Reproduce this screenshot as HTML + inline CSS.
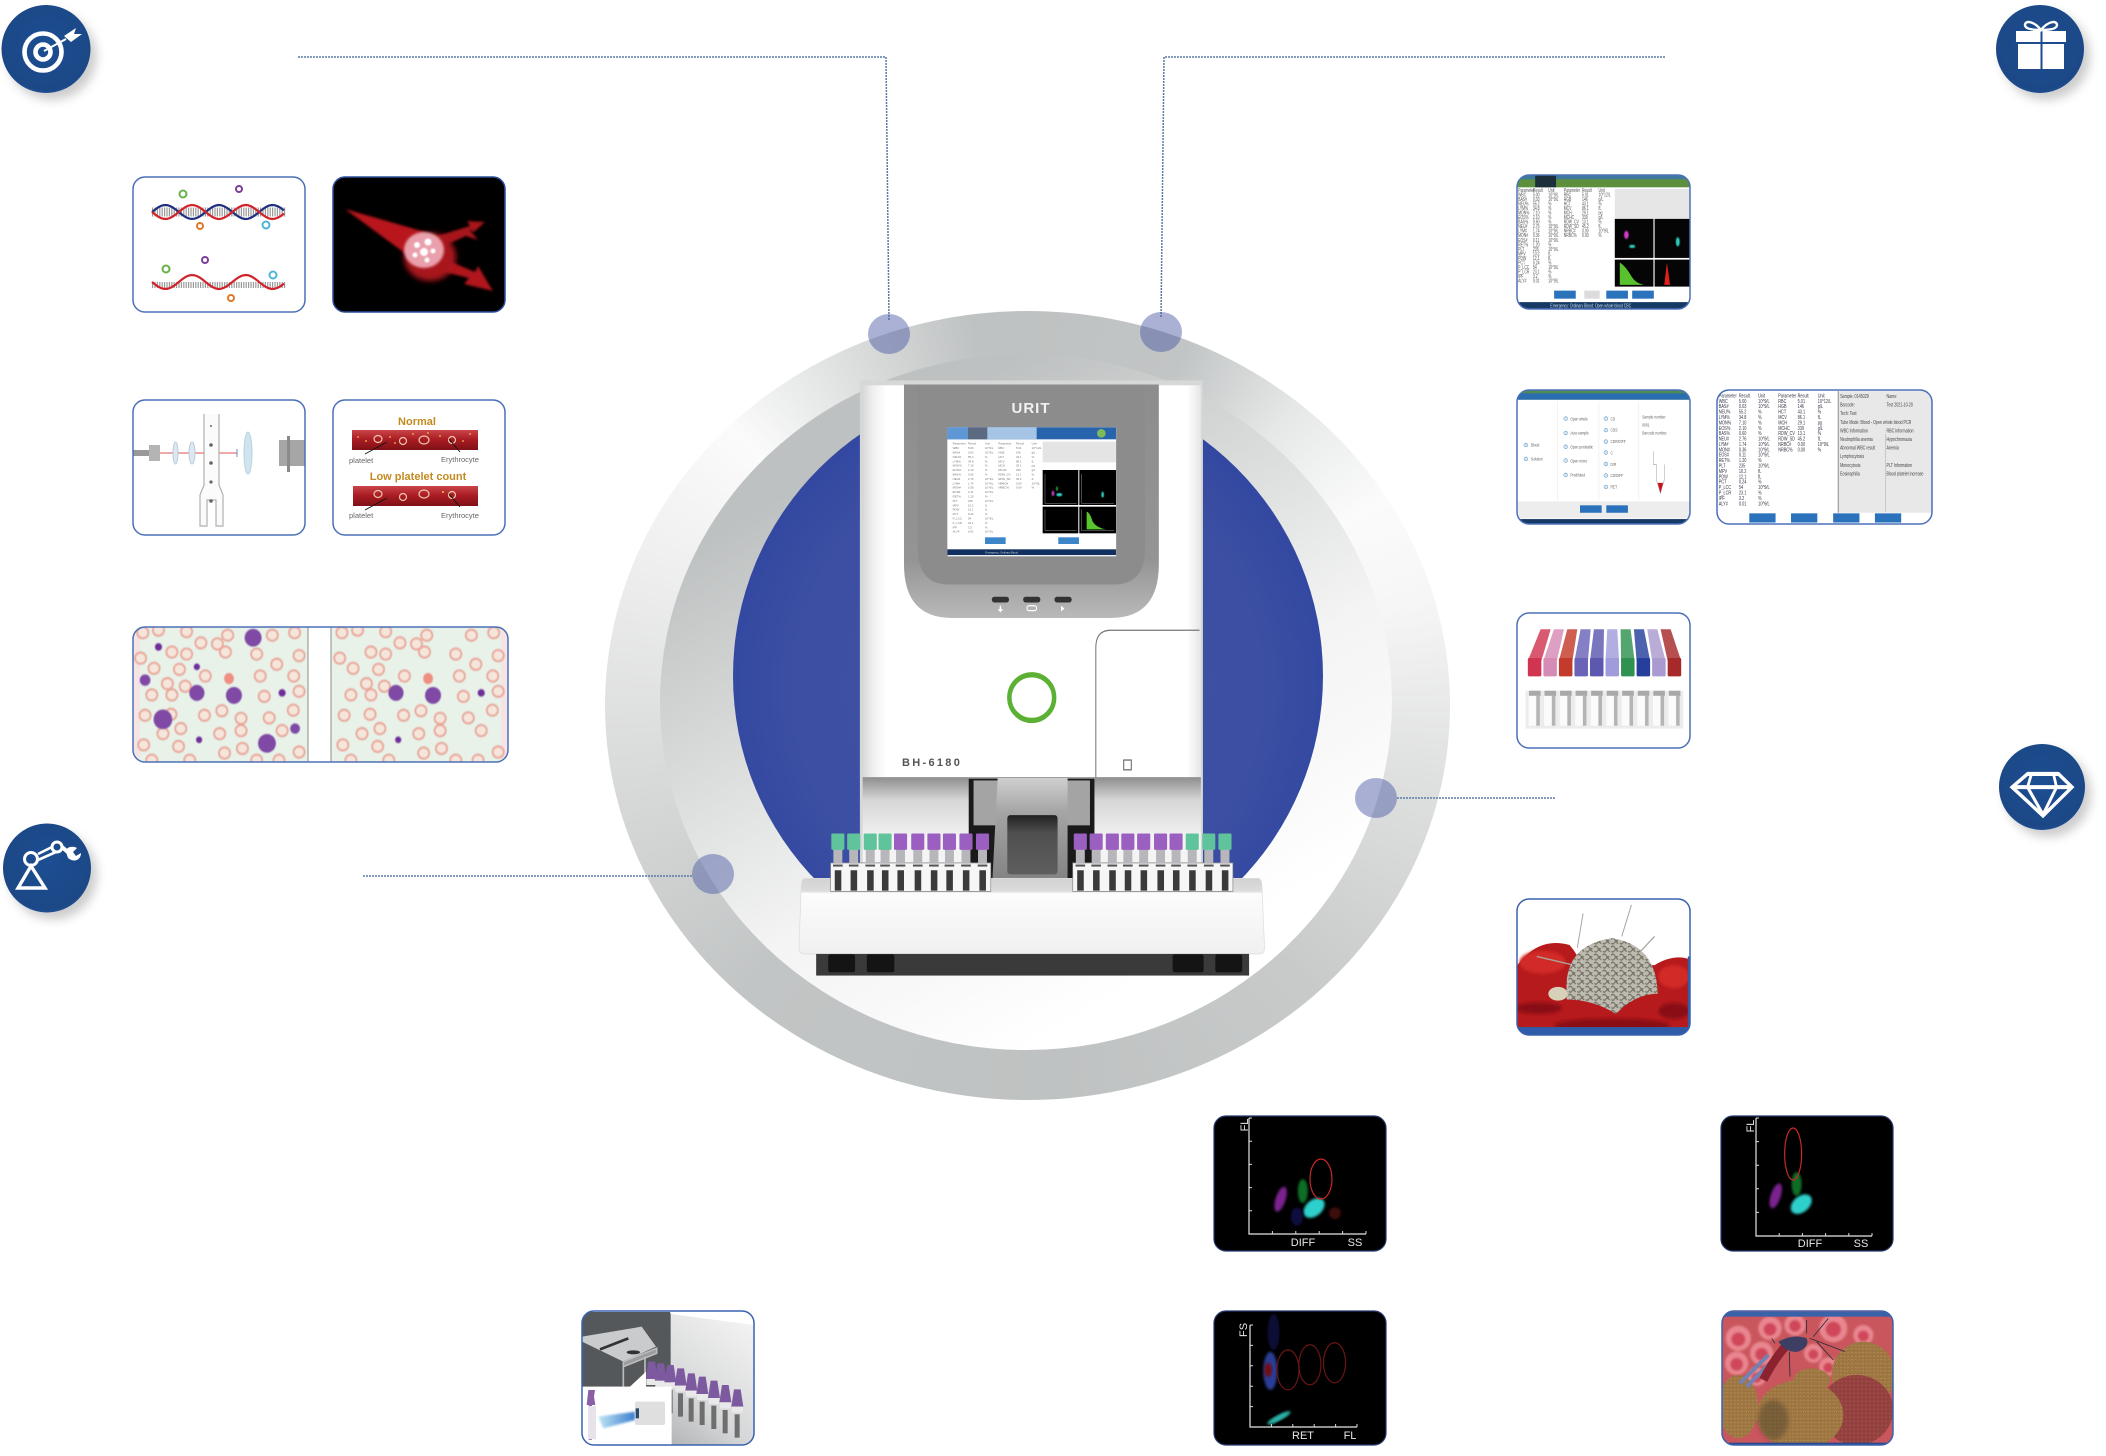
<!DOCTYPE html>
<html lang="en"><head><meta charset="utf-8"><title>URIT BH-6180 hematology analyzer</title>
<style>
html,body{margin:0;padding:0;background:#fff;width:2106px;height:1456px;overflow:hidden;font-family:"Liberation Sans",sans-serif}
.disc{position:absolute;border-radius:50%}
#outer{left:605px;top:311px;width:845px;height:789px;background:conic-gradient(#bfc2c2 0deg,#c2c5c5 24deg,#e6e8e8 42deg,#fbfbfb 60deg,#f6f6f6 75deg,#dfe0e0 100deg,#c8caca 135deg,#bfc2c2 175deg,#c2c5c5 225deg,#dcdddd 265deg,#f0f0f0 293deg,#fbfbfb 313deg,#d9dbdb 335deg,#bfc2c2 352deg)}
#inner{left:660px;top:354px;width:732px;height:696px;background:linear-gradient(150deg,#bec1c1 19%,#cfd1d1 31%,#dcdede 41%,#f4f4f4 59%,#f8f8f8 69%,#fff 81%)}
#blue{left:733px;top:382px;width:590px;height:588px;background:radial-gradient(circle at 50% 52%,#3f51a3 0,#3c4fa2 55%,#2e44a0 80%,#1f3592 100%)}
svg{position:absolute;left:0;top:0}
text{font-family:"Liberation Sans",sans-serif}
</style></head><body>
<div class="disc" id="outer"></div>
<div class="disc" id="inner"></div>
<div class="disc" id="blue"></div>
<svg id="art" width="2106" height="1456" viewBox="0 0 2106 1456">
<defs>
<radialGradient id="iconG" cx="50%" cy="45%" r="60%"><stop offset="0" stop-color="#1f4f92"/><stop offset=".85" stop-color="#1a4786"/><stop offset="1" stop-color="#2a5c9e"/></radialGradient>
<filter id="sh" x="-30%" y="-30%" width="170%" height="170%"><feDropShadow dx="6" dy="7" stdDeviation="5" flood-color="#000" flood-opacity=".2"/></filter>
<filter id="bl05"><feGaussianBlur stdDeviation=".8"/></filter>
<filter id="bl1"><feGaussianBlur stdDeviation="1.4"/></filter>
<filter id="bl2"><feGaussianBlur stdDeviation="3"/></filter>
<filter id="bl4"><feGaussianBlur stdDeviation="6"/></filter>
<linearGradient id="bodyG" x1="0" x2="1" y1="0" y2="0"><stop offset="0" stop-color="#d6d8d8"/><stop offset=".03" stop-color="#efefef"/><stop offset=".07" stop-color="#fff"/><stop offset=".96" stop-color="#fff"/><stop offset="1" stop-color="#e6e6e6"/></linearGradient>
<linearGradient id="cavG" x1="0" x2="0" y1="0" y2="1"><stop offset="0" stop-color="#8e8e8e"/><stop offset=".2" stop-color="#d6d6d6"/><stop offset=".55" stop-color="#f4f4f4"/></linearGradient>
<linearGradient id="bezG" x1="0" x2="0" y1="0" y2="1"><stop offset="0" stop-color="#8d8d8d"/><stop offset=".75" stop-color="#949494"/><stop offset="1" stop-color="#b9b9b9"/></linearGradient>
<linearGradient id="slotG" x1="0" x2="0" y1="0" y2="1"><stop offset="0" stop-color="#cfcfcf"/><stop offset=".3" stop-color="#a5a5a5"/><stop offset="1" stop-color="#7d7d7d"/></linearGradient>
<linearGradient id="winG" x1="0" x2="0" y1="0" y2="1"><stop offset="0" stop-color="#222"/><stop offset=".3" stop-color="#4f4f4f"/><stop offset="1" stop-color="#5e5e5e"/></linearGradient>
<linearGradient id="trayG" x1="0" x2="0" y1="0" y2="1"><stop offset="0" stop-color="#d2d2d2"/><stop offset=".17" stop-color="#dcdcdc"/><stop offset=".2" stop-color="#fcfcfc"/><stop offset="1" stop-color="#f0f0f0"/></linearGradient>
<linearGradient id="vesG" x1="0" x2="0" y1="0" y2="1"><stop offset="0" stop-color="#c9454a"/><stop offset=".5" stop-color="#a81a22"/><stop offset="1" stop-color="#7e1218"/></linearGradient>
<linearGradient id="beamG" x1="1" x2="0" y1="0" y2="0"><stop offset="0" stop-color="#3b7fd0"/><stop offset="1" stop-color="#bfe5f4"/></linearGradient>
<linearGradient id="steelG" x1="0" x2="1" y1="1" y2="0"><stop offset="0" stop-color="#8b8d8e"/><stop offset=".5" stop-color="#d6d7d8"/><stop offset="1" stop-color="#f6f6f6"/></linearGradient>
<pattern id="brain" width="22" height="14" patternUnits="userSpaceOnUse"><rect width="22" height="14" fill="#bdbab0"/><path d="M1 3q5-4 9 0t9 2M2 10q5 3 8-1t10 2" stroke="#6e6a5e" stroke-width="2.2" fill="none"/></pattern>
<pattern id="bump" width="11" height="11" patternUnits="userSpaceOnUse"><rect width="11" height="11" fill="#9c7440"/><circle cx="5" cy="5" r="3" fill="#c0985e"/><circle cx="5" cy="6" r="1.4" fill="#6c4a28"/></pattern>
<pattern id="bumpR" width="12" height="12" patternUnits="userSpaceOnUse"><rect width="12" height="12" fill="#94403f"/><circle cx="6" cy="5" r="3" fill="#ab5a52"/><circle cx="6" cy="6" r="1.4" fill="#6a2c2c"/></pattern>
<clipPath id="cP1"><rect x="133" y="177" width="172" height="135" rx="12"/></clipPath>
<clipPath id="cP2"><rect x="333" y="177" width="172" height="135" rx="12"/></clipPath>
<clipPath id="cP3"><rect x="133" y="400" width="172" height="135" rx="12"/></clipPath>
<clipPath id="cP4"><rect x="333" y="400" width="172" height="135" rx="12"/></clipPath>
<clipPath id="cP5"><rect x="133" y="627" width="375" height="135" rx="12"/></clipPath>
<clipPath id="cR1"><rect x="1517" y="175" width="173" height="134" rx="12"/></clipPath>
<clipPath id="cR2"><rect x="1517" y="390" width="173" height="134" rx="12"/></clipPath>
<clipPath id="cR3"><rect x="1717" y="390" width="215" height="134" rx="12"/></clipPath>
<clipPath id="cR4"><rect x="1517" y="613" width="173" height="135" rx="12"/></clipPath>
<clipPath id="cR5"><rect x="1517" y="899" width="173" height="136" rx="12"/></clipPath>
<clipPath id="cB1"><rect x="1214" y="1116" width="172" height="135" rx="12"/></clipPath>
<clipPath id="cB2"><rect x="1721" y="1116" width="172" height="135" rx="12"/></clipPath>
<clipPath id="cB3"><rect x="1214" y="1311" width="172" height="134" rx="12"/></clipPath>
<clipPath id="cB4"><rect x="1722" y="1311" width="171" height="134" rx="12"/></clipPath>
<clipPath id="cB5"><rect x="582" y="1311" width="172" height="134" rx="12"/></clipPath>
</defs>

<!-- connector lines -->
<g fill="none" stroke="#5a7aa8" stroke-width="1.500" stroke-dasharray="2 1">
<path d="M298 57H886L889 320"/>
<path d="M1665 57H1164L1161 318"/>
<path d="M1397 798H1556"/>
<path d="M363 876H692"/>
</g>

<!-- icons -->
<g>
<ellipse cx="46" cy="49" rx="44.5" ry="44" fill="url(#iconG)" filter="url(#sh)"/>
<circle cx="43" cy="52" r="18.5" fill="none" stroke="#fff" stroke-width="4.6"/>
<circle cx="43" cy="52" r="7.5" fill="none" stroke="#fff" stroke-width="4.6"/>
<path d="M44 51L66 39" stroke="#fff" stroke-width="2"/>
<path d="M64 36L76 28L74 34L82 34L71 42Z" fill="#fff"/>
</g>
<g>
<ellipse cx="2040" cy="49" rx="44" ry="44" fill="url(#iconG)" filter="url(#sh)"/>
<rect x="2016" y="31" width="24.5" height="11" fill="#fff"/><rect x="2042.500" y="31" width="23.5" height="11" fill="#fff"/>
<rect x="2018" y="44" width="22.5" height="25" fill="#fff"/><rect x="2042.500" y="44" width="21.500" height="25" fill="#fff"/>
<path d="M2041 30C2034 21 2025 20 2025 25C2025 29 2033 30 2041 30C2049 30 2057 29 2057 25C2057 20 2048 21 2041 30Z" fill="none" stroke="#fff" stroke-width="2.4"/>
</g>
<g>
<ellipse cx="2042" cy="787" rx="43" ry="43" fill="url(#iconG)" filter="url(#sh)"/>
<g transform="translate(1500,150) scale(.3865,.574)" fill="none" stroke="#fff" stroke-width="7">
<path d="M1365 1087H1445L1480 1110L1405 1160L1325 1110Z"/><path d="M1325 1110H1480M1375 1087L1365 1110L1405 1158L1440 1110L1432 1087"/>
</g>
</g>
<g>
<ellipse cx="47" cy="868" rx="44" ry="44.500" fill="url(#iconG)" filter="url(#sh)"/>
<path d="M18 888H45L31 866Z" fill="none" stroke="#fff" stroke-width="3.4"/>
<circle cx="31" cy="859" r="6.5" fill="none" stroke="#fff" stroke-width="3"/>
<circle cx="57" cy="847" r="5" fill="none" stroke="#fff" stroke-width="3"/>
<path d="M38 854L52 847M38 860L56 852" stroke="#fff" stroke-width="2.6"/>
<path d="M62 847L70 854" stroke="#fff" stroke-width="4"/>
<path d="M66 852C66 846 74 846 77 848L73 852L76 856L81 853C81 860 74 863 68 858Z" fill="#fff"/>
</g>

<!-- left panels -->
<g clip-path="url(#cP1)">
<rect x="133" y="177" width="172" height="135" fill="#fff"/>
<g id="dna"></g>
<g fill="none" stroke-width="2">
<circle cx="183" cy="194" r="3.500" stroke="#68b14b"/><circle cx="239" cy="189" r="3" stroke="#7b3f98"/><circle cx="200" cy="226" r="3" stroke="#e0782a"/><circle cx="266" cy="225" r="3.500" stroke="#4fb5d8"/>
<circle cx="166" cy="269" r="3.500" stroke="#68b14b"/><circle cx="205" cy="260" r="3" stroke="#7b3f98"/><circle cx="231" cy="298" r="3" stroke="#e0782a"/><circle cx="273" cy="275" r="3.500" stroke="#4fb5d8"/>
</g>
</g>
<rect x="133" y="177" width="172" height="135" rx="12" fill="none" stroke="#4b70b8" stroke-width="1.500"/>

<g clip-path="url(#cP2)">
<rect x="333" y="177" width="172" height="135" fill="#000"/>
<path d="M345 209L425 232L425 268Z" fill="#b8161a" filter="url(#bl1)"/>
<path d="M424 240L470 226L467 221L485 222L474 232L469 229L478 240L466 236L430 252Z" fill="#a8161a" filter="url(#bl1)"/>
<path d="M435 255L475 272L478 266L493 291L464 284L469 278L428 268Z" fill="#b0161a" filter="url(#bl1)"/>
<ellipse cx="430" cy="257" rx="26" ry="24" fill="#a8141a" filter="url(#bl2)"/>
<ellipse cx="424" cy="250" rx="20" ry="18" fill="#e9a0ac" filter="url(#bl1)"/>
<g fill="#fff" filter="url(#bl05)"><circle cx="417" cy="245" r="3"/><circle cx="428" cy="242" r="3.500"/><circle cx="424" cy="252" r="4"/><circle cx="433" cy="251" r="2.500"/><circle cx="415" cy="255" r="2.500"/><circle cx="427" cy="260" r="2.500"/></g>
</g>
<rect x="333" y="177" width="172" height="135" rx="12" fill="none" stroke="#2e4f9a" stroke-width="1.500"/>

<g clip-path="url(#cP3)">
<rect x="133" y="400" width="172" height="135" fill="#fff"/>
<rect x="133" y="450" width="16" height="6" fill="#999"/><rect x="149" y="445" width="11" height="16" fill="#b4b4b4"/>
<path d="M160 453H237" stroke="#e98b8b" stroke-width="1.500"/>
<path d="M237 449V457" stroke="#6c8cc4" stroke-width="1"/>
<ellipse cx="175.500" cy="453" rx="2.500" ry="11" fill="#dce8ef" stroke="#bcd"/><ellipse cx="192" cy="453" rx="3" ry="11" fill="#dce8ef" stroke="#bcd"/>
<ellipse cx="248" cy="453" rx="4" ry="21" fill="#cfe4ef" stroke="#b9d3e0"/>
<path d="M204 414V485L200 495V526H207V500H216V526H223V495L219 485V414" fill="#fbfbfb" stroke="#b0b0b0" stroke-width="1.200"/>
<g fill="#666"><circle cx="211" cy="426" r="1"/><circle cx="211" cy="445" r="1.800"/><circle cx="211" cy="463" r="1.800"/><circle cx="211" cy="482" r="1.600"/><circle cx="211" cy="501" r="1.800"/></g>
<rect x="279" y="440" width="26" height="26" fill="#a6a6a6"/><rect x="287" y="436" width="3" height="36" fill="#8a8a8a"/>
</g>
<rect x="133" y="400" width="172" height="135" rx="12" fill="none" stroke="#4b70b8" stroke-width="1.500"/>

<g clip-path="url(#cP4)">
<rect x="333" y="400" width="172" height="135" fill="#fff"/>
<text x="417" y="425" font-size="11" font-weight="bold" fill="#c48a1f" text-anchor="middle">Normal</text>
<rect x="352" y="430" width="126" height="20" fill="url(#vesG)"/>
<g fill="none" stroke="#f3c8a8" stroke-width="1.200"><ellipse cx="378" cy="439" rx="4" ry="3.500"/><ellipse cx="403" cy="441" rx="3.500" ry="3.500"/><ellipse cx="424" cy="440" rx="5" ry="4"/><ellipse cx="452" cy="440" rx="3.500" ry="3.500"/></g>
<g fill="#f0c04a"><circle cx="358" cy="437" r=".9"/><circle cx="366" cy="441" r=".9"/><circle cx="390" cy="437" r=".9"/><circle cx="395" cy="443" r=".9"/><circle cx="413" cy="434" r=".9"/><circle cx="428" cy="433" r=".9"/><circle cx="440" cy="436" r=".9"/><circle cx="463" cy="441" r=".9"/><circle cx="470" cy="434" r=".9"/></g>
<path d="M365 454L387 442M460 452L449 439" stroke="#111" stroke-width=".9"/>
<text x="349" y="463" font-size="7.500" fill="#666">platelet</text>
<text x="441" y="462" font-size="7.500" fill="#666">Erythrocyte</text>
<text x="418" y="480" font-size="11" font-weight="bold" fill="#c48a1f" text-anchor="middle">Low platelet count</text>
<rect x="353" y="486" width="125" height="20" fill="url(#vesG)"/>
<g fill="none" stroke="#f3c8a8" stroke-width="1.200"><ellipse cx="378" cy="494" rx="4" ry="3.500"/><ellipse cx="403" cy="497" rx="3.500" ry="3.500"/><ellipse cx="424" cy="494" rx="5" ry="4"/><ellipse cx="452" cy="495" rx="3.500" ry="3.500"/></g>
<circle cx="443" cy="492" r="1" fill="#f0c04a"/>
<path d="M365 510L387 498M460 507L449 494" stroke="#111" stroke-width=".9"/>
<text x="349" y="518" font-size="7.500" fill="#666">platelet</text>
<text x="441" y="518" font-size="7.500" fill="#666">Erythrocyte</text>
</g>
<rect x="333" y="400" width="172" height="135" rx="12" fill="none" stroke="#4b70b8" stroke-width="1.500"/>

<g clip-path="url(#cP5)">
<rect x="133" y="627" width="375" height="135" fill="#e8f2e9"/>
<rect x="133" y="627" width="7" height="135" fill="#f6e4e5"/><rect x="501" y="627" width="7" height="135" fill="#f6e4e5"/>
<g id="smear" transform="scale(.4464,.5102)" filter="url(#bl1)"></g>
<rect x="308" y="627" width="23" height="135" fill="#fff"/>
<path d="M308 627V762M331 627V762" stroke="#8a8f8a" stroke-width="1"/>
</g>
<rect x="133" y="627" width="375" height="135" rx="12" fill="none" stroke="#4b70b8" stroke-width="1.500"/>

<!-- device -->
<g id="device" transform="translate(780,360) scale(.3444,.4082)">
<rect x="232" y="50" width="996" height="1260" fill="#d6d8d8"/>
<rect x="240" y="62" width="982" height="960" fill="url(#bodyG)"/>
<rect x="240" y="1022" width="982" height="280" fill="url(#cavG)"/>
<rect x="548" y="1026" width="365" height="270" fill="#1a1a1a"/><rect x="562" y="1030" width="338" height="110" fill="#a4a4a4"/>
<path d="M360 60H1100V500Q1100 632 960 632H500Q360 632 360 500Z" fill="url(#bezG)"/>
<path d="M400 62H1060V460Q1060 550 970 550H490Q400 550 400 460Z" fill="#8c8c8c"/>
<rect x="487" y="165" width="489" height="316" fill="#eef2f6"/>
<g fill="#333"><rect x="615" y="580" width="50" height="14" rx="7"/><rect x="706" y="580" width="50" height="14" rx="7"/><rect x="797" y="580" width="50" height="14" rx="7"/>
<path d="M640 602V618M634 612H646" stroke="#fff" stroke-width="4"/><rect x="717" y="602" width="28" height="12" rx="6" fill="none" stroke="#fff" stroke-width="3"/><path d="M816 602V616L826 609Z" fill="#fff"/></g>
<path d="M1218 662H960Q917 662 917 705V1022" fill="none" stroke="#777" stroke-width="3"/>
<rect x="998" y="980" width="22" height="24" fill="none" stroke="#666" stroke-width="3"/>
<ellipse cx="731" cy="827" rx="65" ry="56" fill="none" stroke="#5cb033" stroke-width="13"/>
<path d="M632 1024H835V1302H615Z" fill="url(#slotG)"/>
<rect x="660" y="1115" width="146" height="145" rx="8" fill="url(#winG)"/>
<path d="M72 1270H1390Q1398 1272 1399 1285L1407 1440Q1407 1455 1392 1455H70Q55 1455 55 1440L62 1285Q63 1272 72 1270Z" fill="url(#trayG)" stroke="#dcdcdc" stroke-width="2"/>
<rect x="105" y="1455" width="1257" height="53" fill="#3a3a3a"/>
<g fill="#141414"><rect x="140" y="1456" width="78" height="44" rx="6"/><rect x="252" y="1456" width="80" height="44" rx="6"/><rect x="1140" y="1456" width="90" height="44" rx="6"/><rect x="1264" y="1456" width="78" height="44" rx="6"/></g>
<g id="tubes"></g>
</g>
<text x="1031" y="413" font-size="15" font-weight="bold" fill="#f2f2f2" text-anchor="middle" letter-spacing="1">URIT</text>
<text x="902" y="766" font-size="11" font-weight="bold" fill="#555" letter-spacing="2.300">BH-6180</text>
<g id="devScreen" transform="translate(930,410) scale(.3333)">
<rect x="52" y="52" width="506" height="383" fill="#fff"/>
<rect x="52" y="52" width="506" height="36" fill="#2764ac"/>
<rect x="52" y="52" width="268" height="36" fill="#a6c4e6"/>
<rect x="52" y="52" width="62" height="36" fill="#5f97d4"/><rect x="114" y="52" width="58" height="36" fill="#5b6a80"/>
<circle cx="514" cy="70" r="13" fill="#7dbb5a"/>
<rect x="338" y="95" width="220" height="62" fill="#e4e4e4"/>
<rect x="338" y="180" width="107" height="105" fill="#000"/><rect x="448" y="180" width="110" height="105" fill="#000"/><rect x="338" y="290" width="107" height="80" fill="#000"/><rect x="448" y="290" width="110" height="80" fill="#000"/>
<ellipse cx="388" cy="254" rx="9" ry="5" fill="#2ad0c0" filter="url(#bl1)"/><ellipse cx="369" cy="250" rx="4" ry="8" fill="#c23ac9" filter="url(#bl1)"/><ellipse cx="381" cy="236" rx="3" ry="7" fill="#2a9a3a" filter="url(#bl1)"/>
<ellipse cx="518" cy="254" rx="4" ry="9" fill="#2ad0c0" filter="url(#bl1)"/>
<path d="M470 358V305Q480 308 488 335Q500 354 528 358Z" fill="#59c62f"/>
<path d="M345 192V280H440M455 192V280H552M345 298V362H440M455 298V362H552" fill="none" stroke="#ddd" stroke-width="1"/>
<rect x="165" y="382" width="62" height="20" fill="#3a86c8"/><rect x="385" y="382" width="62" height="20" fill="#3a86c8"/>
<rect x="52" y="418" width="506" height="17" fill="#12305f"/>
<g id="devTable"></g>
<text x="215" y="430" font-size="8" fill="#cdd" text-anchor="middle">Emergency: Ordinary Blood</text>
</g>

<!-- connector dots -->
<g fill="rgba(66,82,160,.45)">
<ellipse cx="889" cy="334" rx="21" ry="20"/>
<ellipse cx="1161" cy="332" rx="21" ry="20"/>
<ellipse cx="1376" cy="798" rx="21" ry="20"/>
<ellipse cx="713" cy="874" rx="21" ry="20"/>
</g>

<!-- right screens -->
<g clip-path="url(#cR1)">
<g transform="translate(1500,150) scale(.3865,.574)">
<rect x="45" y="44" width="446" height="233" fill="#fff"/>
<rect x="45" y="44" width="446" height="21" fill="#5e8f3c"/><rect x="45" y="44" width="446" height="7" fill="#3f7a9e"/><rect x="91" y="44" width="54" height="21" fill="#1d2f3a"/>
<rect x="297" y="68" width="194" height="52" fill="#e6e6e6"/>
<rect x="297" y="120" width="100" height="68" fill="#050505"/><rect x="400" y="120" width="91" height="68" fill="#050505"/><rect x="297" y="191" width="100" height="47" fill="#050505"/><rect x="400" y="191" width="91" height="47" fill="#050505"/>
<ellipse cx="327" cy="148" rx="6" ry="7" fill="#d43ac9" filter="url(#bl1)"/><ellipse cx="342" cy="168" rx="8" ry="3" fill="#2ad0c0" filter="url(#bl1)"/><ellipse cx="460" cy="160" rx="5" ry="8" fill="#2ad0c0" filter="url(#bl1)"/>
<path d="M310 235V196Q325 202 340 220Q350 232 372 235Z" fill="#57c22e"/><path d="M425 235L432 196L440 235Z" fill="#e0201c"/>
<rect x="140" y="245" width="56" height="14" fill="#2a72bb"/><rect x="218" y="245" width="40" height="14" fill="#dcdcdc"/><rect x="275" y="245" width="56" height="14" fill="#2a72bb"/><rect x="342" y="245" width="56" height="14" fill="#2a72bb"/>
<rect x="45" y="265" width="446" height="12" fill="#163a66"/>
<text x="235" y="274" font-size="9" fill="#cde" text-anchor="middle">Emergency: Ordinary Blood: Open whole blood CBC</text>
<g id="r1Table"></g>
</g></g>
<rect x="1517" y="175" width="173" height="134" rx="12" fill="none" stroke="#4b70b8" stroke-width="1.500"/>

<g clip-path="url(#cR2)">
<g transform="translate(1500,150) scale(.3865,.574)">
<rect x="45" y="418" width="446" height="234" fill="#fff"/>
<rect x="45" y="418" width="446" height="17" fill="#4f8a54"/><rect x="45" y="424" width="446" height="11" fill="#2a6db0"/>
<rect x="45" y="612" width="446" height="30" fill="#ededed"/><rect x="148" y="438" width="2" height="172" fill="#eee"/><rect x="255" y="438" width="2" height="172" fill="#eee"/><rect x="358" y="438" width="2" height="172" fill="#eee"/>
<rect x="207" y="619" width="56" height="13" fill="#2a72bb"/><rect x="275" y="619" width="56" height="13" fill="#2a72bb"/>
<rect x="45" y="643" width="446" height="9" fill="#163a66"/>
<path d="M397 525V548H405V575L415 598L425 575V548" fill="#fff" stroke="#999" stroke-width="1.200"/><path d="M408 580H422L415 598Z" fill="#c8141a"/>
<g id="r2Form"></g>
</g></g>
<rect x="1517" y="390" width="173" height="134" rx="12" fill="none" stroke="#4b70b8" stroke-width="1.500"/>

<g clip-path="url(#cR3)">
<g transform="translate(1500,150) scale(.3865,.574)">
<rect x="562" y="418" width="556" height="234" fill="#fff"/>
<rect x="874" y="420" width="244" height="212" fill="#e8e8e8"/><rect x="874" y="420" width="2" height="212" fill="#777"/>
<rect x="997" y="495" width="1" height="135" fill="#999"/>
<rect x="645" y="633" width="68" height="16" fill="#2a72bb"/><rect x="753" y="633" width="68" height="16" fill="#2a72bb"/><rect x="862" y="633" width="68" height="16" fill="#2a72bb"/><rect x="970" y="633" width="68" height="16" fill="#2a72bb"/>
<g id="r3Table"></g>
</g></g>
<rect x="1717" y="390" width="215" height="134" rx="12" fill="none" stroke="#4b70b8" stroke-width="1.500"/>

<g clip-path="url(#cR4)">
<rect x="1517" y="613" width="173" height="135" fill="#fff"/>
<g id="rTubes" transform="translate(1500,150) scale(.3865,.574)"></g>
</g>
<rect x="1517" y="613" width="173" height="135" rx="12" fill="none" stroke="#4b70b8" stroke-width="1.500"/>

<g clip-path="url(#cR5)">
<rect x="1517" y="899" width="173" height="136" fill="#fff"/>
<g transform="translate(1500,150) scale(.3865,.574)">
<path d="M45 1420Q100 1370 180 1385Q200 1400 210 1420H400Q450 1400 491 1410V1541H45Z" fill="#b61a1c"/>
<g fill="#d22a28" filter="url(#bl2)"><ellipse cx="110" cy="1415" rx="60" ry="20"/><ellipse cx="450" cy="1440" rx="40" ry="20"/></g>
<g fill="#8a0f12" filter="url(#bl2)"><ellipse cx="290" cy="1525" rx="150" ry="12"/><ellipse cx="100" cy="1495" rx="60" ry="10"/><ellipse cx="450" cy="1500" rx="40" ry="14"/></g>
<path d="M200 1390L215 1330M315 1370L340 1315M365 1395L400 1370M95 1405L190 1420" stroke="#a8a59c" stroke-width="2.500" fill="none"/>
<path d="M172 1460Q170 1385 290 1373Q405 1385 408 1470Q350 1470 300 1505Q240 1480 172 1480Z" fill="url(#brain)"/>
<ellipse cx="150" cy="1470" rx="25" ry="12" fill="#d6d1b8"/>
<rect x="45" y="1528" width="446" height="13" fill="#2f5ca8"/>
<rect x="486" y="1405" width="5" height="136" fill="#2f5ca8"/>
</g></g>
<rect x="1517" y="899" width="173" height="136" rx="12" fill="none" stroke="#3a62ad" stroke-width="1.500"/>

<!-- bottom plots -->
<g clip-path="url(#cB1)"><rect x="1214" y="1116" width="172" height="135" fill="#000"/><g id="plotA"></g></g>
<rect x="1214" y="1116" width="172" height="135" rx="12" fill="none" stroke="#26376e" stroke-width="1.200"/>
<g clip-path="url(#cB2)"><rect x="1721" y="1116" width="172" height="135" fill="#000"/><g id="plotB"></g></g>
<rect x="1721" y="1116" width="172" height="135" rx="12" fill="none" stroke="#26376e" stroke-width="1.200"/>
<g clip-path="url(#cB3)"><rect x="1214" y="1311" width="172" height="134" fill="#000"/><g id="plotC"></g></g>
<rect x="1214" y="1311" width="172" height="134" rx="12" fill="none" stroke="#26376e" stroke-width="1.200"/>

<!-- malaria panel -->
<g clip-path="url(#cB4)">
<g transform="translate(1700,1300) scale(.3333)">
<rect x="60" y="30" width="525" height="410" fill="#c9565c"/>
<g id="malariaCells" filter="url(#bl2)"></g>
<rect x="66" y="36" width="515" height="14" fill="#3a62a8"/>
<ellipse cx="490" cy="225" rx="95" ry="100" fill="url(#bump)"/>
<ellipse cx="470" cy="330" rx="110" ry="105" fill="url(#bumpR)"/>
<ellipse cx="335" cy="240" rx="55" ry="35" fill="url(#bump)"/>
<ellipse cx="115" cy="320" rx="60" ry="95" fill="url(#bump)"/>
<ellipse cx="300" cy="345" rx="130" ry="105" fill="url(#bump)"/>
<ellipse cx="220" cy="360" rx="45" ry="60" fill="#3f3a2c" opacity=".4" filter="url(#bl4)"/>
<path d="M120 250L205 165M140 260L215 185" stroke="#7480b0" stroke-width="12" fill="none"/>
<path d="M190 240Q220 180 260 135" stroke="#8a2230" stroke-width="26" fill="none"/>
<path d="M235 125Q280 100 320 115Q330 140 295 155Q260 160 235 125Z" fill="#3c3f63"/>
<path d="M330 115L435 155M320 100L320 60M340 110L385 55M350 125L400 180M268 155L270 230M225 130L215 115" stroke="#2a2a3a" stroke-width="2.500" fill="none"/>
<rect x="60" y="428" width="525" height="12" fill="#2a4a8e"/>
</g></g>
<rect x="1722" y="1311" width="171" height="134" rx="12" fill="none" stroke="#3a62ad" stroke-width="1.500"/>

<!-- barcode scanner panel -->
<g clip-path="url(#cB5)">
<g transform="translate(570,1300) scale(.3333)">
<rect x="36" y="36" width="516" height="404" fill="url(#steelG)"/>
<rect x="36" y="36" width="266" height="224" fill="#55585b"/>
<path d="M36 110L215 80L258 140L160 185L36 125Z" fill="#c9cbcc"/>
<path d="M90 148L175 115" stroke="#333" stroke-width="8"/><ellipse cx="190" cy="157" rx="20" ry="6" fill="#333"/>
<path d="M160 185L260 145V160L160 200ZM160 195V260M225 170V240" stroke="#bbb" stroke-width="5" fill="#9a9c9e"/>
<path d="M300 36H552V75L302 42Z" fill="#fff"/>
<g id="scanTubes"></g>
<path d="M36 260H180L228 215V260H305V440H36Z" fill="#fff"/>
<path d="M85 350L195 335V360L100 385Z" fill="url(#beamG)" filter="url(#bl2)"/>
<rect x="195" y="305" width="90" height="70" rx="5" fill="#dfdfdf"/><rect x="197" y="325" width="10" height="30" fill="#2a4a6a"/>
<path d="M55 270H75L72 290L76 315H66V420H56V315H50Z" fill="#8a5fa6"/><rect x="56" y="318" width="22" height="100" fill="#e8e3ea"/>
</g></g>
<rect x="582" y="1311" width="172" height="134" rx="12" fill="none" stroke="#3a62ad" stroke-width="1.500"/>
</svg>

<script>
const SVGNS='http://www.w3.org/2000/svg';
/* ---- density-plot data ---- */
const axisTicks=[20,40,60,80,100];
const plotAClusters=['cyan','purple','green','darkred','darkblue'];
const plotAX=[55.6,27,46,73.5,41];
const plotAY=[22.4,30,37,18,15];
const plotAGateX=[61.5];
const plotAGateY=[47.4];
const plotBClusters=['cyan','purple','green'];
const plotBX=[39,17,35];
const plotBY=[27,34,44];
const plotBGateX=[32];
const plotBGateY=[69.5];
const plotCClusters=['blue','faintblue','flatcyan','reddab'];
const plotCX=[19,22,27,17];
const plotCY=[55,93,9,56];
const plotCGateX=[35.5,56,79];
const plotCGateY=[56,61,63];
const clusterLook={
cyan:{c:'#2fd0cc',rx:12,ry:8,r:-40},purple:{c:'#7c2490',rx:5,ry:13,r:18},green:{c:'#0f6e28',rx:5,ry:12,r:0},
darkred:{c:'#3e0808',rx:6,ry:6,r:0},darkblue:{c:'#0c1040',rx:6,ry:9,r:0},
blue:{c:'#2c3e96',rx:7,ry:19,r:0},faintblue:{c:'#0a0e34',rx:6,ry:18,r:0},flatcyan:{c:'#2ab4aa',rx:13,ry:3,r:-28},reddab:{c:'#6e1114',rx:4,ry:7,r:0}
};
function linear(a,b){return v=>a+(b-a)*v/100;}
function node(parent,tag,attrs){const n=document.createElementNS(SVGNS,tag);for(const k in attrs)n.setAttribute(k,attrs[k]);parent.appendChild(n);return n;}
function label(parent,x,y,t,rot,name){const n=node(parent,'text',{x:x,y:y,'font-size':11,fill:'#e8e8e8','text-anchor':'middle'});n.textContent=t;if(rot)n.setAttribute('transform','rotate(-90 '+x+' '+y+')');


}
function drawPlot(id,box,names,xs,ys,gateX,gateY,gateRx,gateRy,gateColor,labels){
 const g=document.getElementById(id);const X=linear(box.x0,box.x1),Y=linear(box.y0,box.y1);
 names.forEach((nm,i)=>{const s=clusterLook[nm];const e=node(g,'ellipse',{cx:X(xs[i]),cy:Y(ys[i]),rx:s.rx,ry:s.ry,fill:s.c,filter:'url(#bl1)'});
  e.setAttribute('transform','rotate('+s.r+' '+X(xs[i])+' '+Y(ys[i])+')');
  
  
 });
 gateX.forEach((v,i)=>{const e=node(g,'ellipse',{cx:X(v),cy:Y(gateY[i]),rx:gateRx,ry:gateRy,fill:'none',stroke:gateColor,'stroke-width':1.2});
  
  
 });
 const ax=node(g,'path',{d:'M'+box.x0+' '+box.y1+'V'+box.y0+'H'+box.x1,fill:'none',stroke:'#e6e6e6','stroke-width':1.2});
 
 
 axisTicks.forEach(t=>{
  const a=node(g,'path',{d:'M'+X(t)+' '+box.y0+'v-3',stroke:'#ddd','stroke-width':1});
  
  
  const b=node(g,'path',{d:'M'+box.x0+' '+Y(t)+'h3',stroke:'#ddd','stroke-width':1});
  
  
 });
 label(g,labels.x1[0],labels.x1[1],labels.x1[2],false,'x-axis-title');
 label(g,labels.x2[0],labels.x2[1],labels.x2[2],false,'x-axis-end-label');
 label(g,labels.y[0],labels.y[1],labels.y[2],true,'y-axis-title');
}
drawPlot('plotA',{x0:1249,x1:1366,y0:1234,y1:1118},plotAClusters,plotAX,plotAY,plotAGateX,plotAGateY,11,20,'#c82828',{x1:[1303,1246,'DIFF'],x2:[1355,1246,'SS'],y:[1248,1125,'FL']});
drawPlot('plotB',{x0:1756,x1:1872,y0:1236,y1:1118},plotBClusters,plotBX,plotBY,plotBGateX,plotBGateY,8.5,26,'#c82828',{x1:[1810,1247,'DIFF'],x2:[1861,1247,'SS'],y:[1754,1126,'FL']});
drawPlot('plotC',{x0:1250,x1:1357,y0:1427,y1:1325},plotCClusters,plotCX,plotCY,plotCGateX,plotCGateY,11,20,'#6a1616',{x1:[1303,1439,'RET'],x2:[1350,1439,'FL'],y:[1247,1330,'FS']});

/* ---- DNA panel ---- */
(function(){const g=document.getElementById('dna');
 function wave(y,amp,phase,len){let d='';for(let x=0;x<=len;x+=3){const yy=y+amp*Math.sin(x/134*2*Math.PI*2.5+phase);d+=(x?'L':'M')+(152+x)+' '+yy.toFixed(1);}return d;}
 const l1=node(g,'path',{d:'M152 212H286',stroke:'#9a9a9a','stroke-width':9,'stroke-dasharray':'1.2 1.2',fill:'none'});
 
 
 const l2=node(g,'path',{d:'M152 285H286',stroke:'#9a9a9a','stroke-width':6,'stroke-dasharray':'1.2 1.2',fill:'none'});
 
 
 const s1=node(g,'path',{d:wave(212,7,Math.PI,134),stroke:'#1f2f80','stroke-width':2.2,fill:'none'});
 
 
 const s2=node(g,'path',{d:wave(212,7,0,134),stroke:'#d2222a','stroke-width':2.2,fill:'none'});
 
 
 const s3=node(g,'path',{d:wave(282,7,0,134),stroke:'#d2222a','stroke-width':2.2,fill:'none'});
 
 
})();

/* ---- smear cells (coordinates in panel drawing units) ---- */
const redCells=[[320,1240],[355,1235],[418,1238],[510,1245],[610,1245],[660,1240],[315,1290],[345,1310],[385,1278],[418,1282],[450,1260],[487,1262],[505,1278],[575,1282],[620,1302],[670,1285],[402,1312],[375,1340],[460,1325],[583,1325],[658,1325],[340,1362],[385,1362],[415,1345],[592,1365],[670,1355],[325,1402],[383,1400],[458,1402],[497,1393],[540,1408],[603,1407],[657,1392],[405,1428],[365,1438],[540,1432],[632,1432],[492,1438],[322,1460],[400,1463],[503,1476],[543,1467],[670,1474],[340,1490],[425,1490],[625,1490],[575,1490]];
const whiteCellsLeft=[[567,1250,19],[325,1333,12],[441,1358,17],[524,1363,18],[365,1410,21],[598,1457,20],[661,1428,11],[355,1268,8],[441,1307,7],[632,1358,8],[446,1450,7]];
const whiteCellsRight=[[887,1358,17],[970,1363,18],[1078,1358,8],[892,1450,7]];
(function(){const g=document.getElementById('smear');
 function rbc(x,y){const c=node(g,'ellipse',{cx:x,cy:y,rx:12.5,ry:11,fill:'#f5e6dc',stroke:'#e9a598','stroke-width':4});
  
  
 }
 function wbc(x,y,r){const c=node(g,'ellipse',{cx:x,cy:y,rx:r,ry:r*.92,fill:r>10?'#7f4aa5':'#6f2f9a'});
  
  
 }
 redCells.forEach(p=>rbc(p[0],p[1]));redCells.forEach(p=>rbc(p[0]+446,p[1]));
 whiteCellsLeft.forEach(p=>wbc(p[0],p[1],p[2]));whiteCellsRight.forEach(p=>wbc(p[0],p[1],p[2]));
 [[513,1330],[959,1330]].forEach(p=>{const c=node(g,'ellipse',{cx:p[0],cy:p[1],rx:11,ry:11,fill:'#ef8f82'});
  
  
 });
})();

/* ---- device tubes ---- */
const tubeCaps=[[168,'g'],[214,'g'],[262,'g'],[305,'g'],[350,'p'],[400,'p'],[447,'p'],[492,'p'],[540,'p'],[588,'p'],[872,'p'],[918,'p'],[965,'p'],[1010,'p'],[1056,'p'],[1105,'p'],[1150,'p'],[1197,'g'],[1245,'g'],[1292,'g']];
(function(){const g=document.getElementById('tubes');
 [[147,612],[850,1315]].forEach(r=>{const b=node(g,'rect',{x:r[0],y:1232,width:r[1]-r[0],height:70,fill:'#f6f6f6',stroke:'#888','stroke-width':2});
  
  
 });
 tubeCaps.forEach(t=>{const x=t[0];
  const body=node(g,'rect',{x:x-13,y:1198,width:26,height:36,fill:'#b7b7bb'});
  
  
  const cap=node(g,'rect',{x:x-19,y:1160,width:38,height:40,rx:3,fill:t[1]==='g'?'#5fc39b':'#9a5fc0'});
  
  
  const st=node(g,'rect',{x:x-9,y:1250,width:19,height:50,fill:'#3a3a3a'});
  
  
  const lb=node(g,'rect',{x:x-14,y:1236,width:28,height:5,fill:'#555'});
  
  
 });
})();

/* ---- tiny screen text ---- */
function tinyTable(id,xs,y0,dy,rows,size,color){const g=document.getElementById(id);
 rows.forEach((row,r)=>row.forEach((t,c)=>{if(!t)return;const n=node(g,'text',{x:xs[c],y:y0+r*dy,'font-size':size,fill:color});n.textContent=t;
  
  
 }));
}
const resultRows=[['Parameter','Result','Unit','Parameter','Result','Unit'],['WBC','5.00','10^9/L','RBC','5.01','10^12/L'],['BAS#','0.03','10^9/L','HGB','146','g/L'],['NEU%','55.2','%','HCT','43.1','%'],['LYM%','34.8','%','MCV','86.1','fL'],['MON%','7.10','%','MCH','29.1','pg'],['EOS%','2.10','%','MCHC','339','g/L'],['BAS%','0.60','%','RDW_CV','13.1','%'],['NEU#','2.76','10^9/L','RDW_SD','45.2','fL'],['LYM#','1.74','10^9/L','NRBC#','0.00','10^9/L'],['MON#','0.36','10^9/L','NRBC%','0.00','%'],['EOS#','0.11','10^9/L','','',''],['RET%','1.20','%','','',''],['PLT','235','10^9/L','','',''],['MPV','10.2','fL','','',''],['PDW','12.1','fL','','',''],['PCT','0.24','%','','',''],['P_LCC','54','10^9/L','','',''],['P_LCR','23.1','%','','',''],['IPF','3.2','%','','',''],['ALY#','0.01','10^9/L','','','']];
tinyTable('devTable',[68,114,165,205,258,305],104,13.2,resultRows,8.5,'#777');
tinyTable('r1Table',[47,85,125,165,212,255],73,7.9,resultRows,9,'#555');
tinyTable('r3Table',[566,618,668,720,770,822],431,9.4,resultRows,10,'#334');
const flagRows=[['Sample: 0145029','Name:'],['Barcode:','Test 2021-10-20'],['Tech: Test','' ],['Tube Mode: Blood - Open whole blood PCR'],['WBC Information','RBC Information'],['Neutrophilia anemia','Hypochromasia'],['Abnormal WBC result','Anemia'],['Lymphocytosis',''],['Monocytosis','PLT Information'],['Eosinophilia','Blood platelet increase']];
tinyTable('r3Table',[880,1000],432,15,flagRows,9.5,'#444');
const formLeft=[['Blood'],['Solution']];
const formMid=[['Open whole'],['Auto-sample'],['Open peristaltic'],['Open micro'],['Prediluted']];
const formRight=[['CD'],['CDS'],['CDR/DIFF'],['C'],['D/R'],['CD/DIFF'],['RET']];
const formSide=[['Sample number:'],['0001'],['Barcode number:']];
tinyTable('r2Form',[80],517,24,formLeft,8.5,'#666');
tinyTable('r2Form',[182],471,24.5,formMid,8.5,'#666');
tinyTable('r2Form',[286],471,19.8,formRight,8.5,'#666');
tinyTable('r2Form',[368],468,14,formSide,8.5,'#666');
(function(){const g=document.getElementById('r2Form');
 [[67,514],[67,538],[170,468],[170,493],[170,517],[170,541],[170,566],[274,468],[274,488],[274,508],[274,527],[274,547],[274,567],[274,587]].forEach(p=>{const c=node(g,'ellipse',{cx:p[0],cy:p[1],rx:5,ry:3.2,fill:'#d7e6f2',stroke:'#4a90c0','stroke-width':1});
  
  
 });
})();

/* ---- reagent tube grid ---- */
const reagentColors=['#d13450','#d58bb5','#c33b2a','#6a64b8','#5c58b0','#a09cdc','#2f9152','#263f9c','#a99bcf','#a62a2a'];
(function(){const g=document.getElementById('rTubes');
 const back=node(g,'rect',{x:66,y:942,width:408,height:66,fill:'#ececec'});
 
 
 reagentColors.forEach((c,i)=>{const xb=72+i*40.2,xt=105+i*34.5;
  const top=node(g,'path',{d:'M'+xt+' 835H'+(xt+26)+'L'+(xb+35)+' 890H'+xb+'Z',fill:c,opacity:.82});
  
  
  const front=node(g,'rect',{x:xb,y:885,width:35,height:32,rx:3,fill:c});
  
  
  const neck=node(g,'rect',{x:xb+3,y:942,width:30,height:9,fill:'#a9a9a9'});
  
  
  const bar=node(g,'rect',{x:xb+22,y:951,width:9,height:52,fill:'#b4b4b4'});
  
  
  const glass=node(g,'rect',{x:xb+2,y:951,width:19,height:52,fill:'#fbfbfb'});
  
  
 });
})();

/* ---- malaria red cells ---- */
const bgCells=[[115,115,38],[210,85,35],[285,75,32],[400,85,42],[110,190,35],[185,160,35],[490,105,30],[340,160,28],[385,200,28],[170,230,28]];
(function(){const g=document.getElementById('malariaCells');
 bgCells.forEach(p=>{const c=node(g,'circle',{cx:p[0],cy:p[1],r:p[2],fill:'#e98690'});
  
  
  const d=node(g,'circle',{cx:p[0],cy:p[1]+3,r:p[2]*.55,fill:'#cf4658'});
  
  
 });
})();

/* ---- scanner sample tubes ---- */
const scanTubeSpots=[[245,185],[272,190],[301,195],[332,205],[364,220],[397,230],[432,242],[466,255],[502,268]];
(function(){const g=document.getElementById('scanTubes');
 scanTubeSpots.forEach(p=>{const cap=node(g,'path',{d:'M'+(p[0]-10)+' '+p[1]+'h20l8 52h-36z',fill:'#7d5a9f'});
  
  
  const b=node(g,'rect',{x:p[0]-16,y:p[1]+52,width:32,height:18,fill:'#e9e9e9'});
  
  
  const bar=node(g,'rect',{x:p[0]-8,y:p[1]+75,width:15,height:70,fill:'#6e6e6e'});
  
  
 });
})();
</script>
</body></html>
